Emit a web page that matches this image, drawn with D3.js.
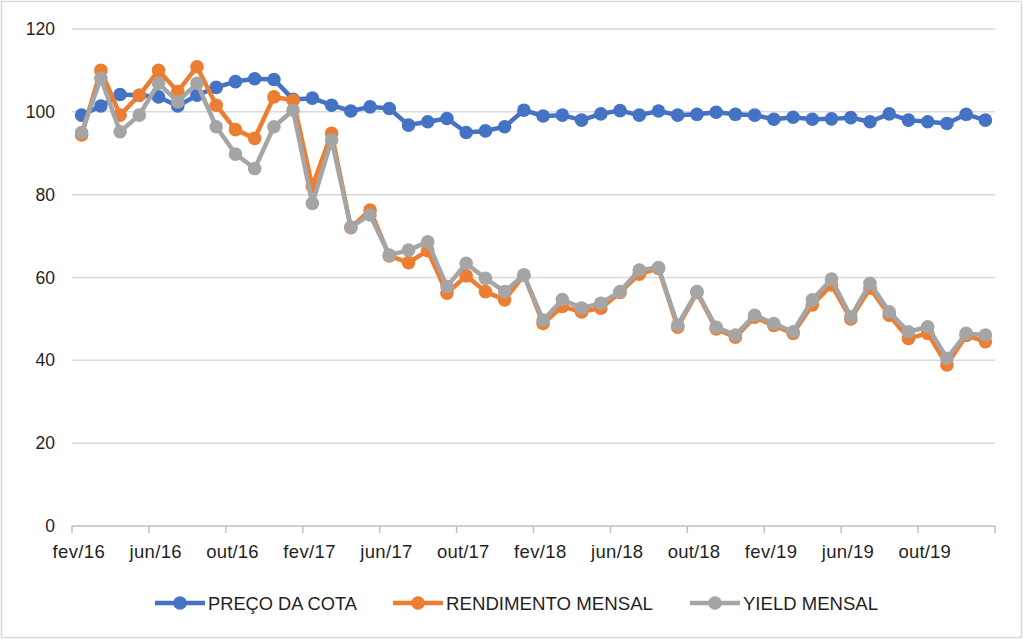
<!DOCTYPE html>
<html>
<head>
<meta charset="utf-8">
<script src="https://cdn.jsdelivr.net/npm/d3@7"></script>
<style>
  body { margin: 0; background: #fff; }
  svg text { font-family: "Liberation Sans", Arial, sans-serif; fill: #1f1f1f; }
</style>
</head>
<body>
<svg id="chart" width="1024" height="641"></svg>
<script>
// months fev/16 .. jan/20
const monthNames = ["jan", "fev", "mar", "abr", "mai", "jun", "jul", "ago", "set", "out", "nov", "dez"];
const months = d3.range(48).map(i => {
    const m = (1 + i) % 12;
    const yr = 16 + Math.floor((1 + i) / 12);
    return monthNames[m] + "/" + yr;
});

const precoCota = [99.2, 101.4, 104.2, 104, 103.6, 101.4, 104, 105.9, 107.3, 108,
    107.8, 103, 103.3, 101.6, 100.2, 101.2, 100.8, 96.8, 97.6, 98.4,
    95, 95.4, 96.4, 100.4, 99, 99.2, 98, 99.5, 100.3, 99.2,
    100.2, 99.2, 99.4, 99.9, 99.4, 99.2, 98.2, 98.7, 98.2, 98.3,
    98.6, 97.6, 99.5, 98, 97.6, 97.2, 99.4, 98];

const rendimentoMensal = [94.4, 110, 99.2, 104, 110, 104.9, 110.9, 101.6, 95.7, 93.6,
    103.6, 102.8, 82, 94.8, 72, 76.3, 65.2, 63.6, 66.5, 56.2,
    60.4, 56.6, 54.6, 60.6, 48.9, 53, 51.7, 52.6, 56.4, 60.8,
    62.2, 48, 56.4, 47.6, 45.6, 50.4, 48.4, 46.5, 53.4, 58.2,
    50, 57.4, 50.9, 45.3, 46.5, 38.9, 46, 44.5];

const yieldMensal = [95, 108.1, 95.2, 99.2, 106.9, 102.4, 106.9, 96.4, 89.8, 86.3,
    96.4, 100.4, 77.9, 93.2, 72.2, 75.1, 65.4, 66.6, 68.6, 57.8,
    63.4, 59.8, 56.6, 60.6, 49.7, 54.7, 52.6, 53.8, 56.6, 61.8,
    62.4, 48.5, 56.6, 48, 46.1, 50.9, 48.9, 46.9, 54.6, 59.6,
    50.5, 58.6, 51.7, 46.9, 48.1, 40.5, 46.5, 46.1];

const yTicks = [0, 20, 40, 60, 80, 100, 120];
const seriesNames = ["PREÇO DA COTA", "RENDIMENTO MENSAL", "YIELD MENSAL"];
const colors = ["#4472C4", "#ED7D31", "#A5A5A5"];

const svg = d3.select("#chart");
const plotLeft = 72, plotRight = 995, plotTop = 29, plotBottom = 526;

// outer frame
svg.append("rect")
    .attr("x", 1.5).attr("y", 1.5)
    .attr("width", 1020).attr("height", 636)
    .attr("fill", "none")
    .attr("stroke", "#d9d9d9")
    .attr("stroke-width", 1.5);

const x = d3.scaleBand().domain(months).range([plotLeft, plotRight]);
const y = d3.scaleLinear().domain([0, 120]).range([plotBottom, plotTop]);

// gridlines
svg.append("g")
    .selectAll("line")
    .data(yTicks.filter(t => t > 0))
    .join("line")
    .attr("x1", plotLeft).attr("x2", plotRight)
    .attr("y1", d => y(d)).attr("y2", d => y(d))
    .attr("stroke", "#d9d9d9")
    .attr("stroke-width", 1.5);

// y labels
svg.append("g")
    .selectAll("text")
    .data(yTicks)
    .join("text")
    .attr("x", 55)
    .attr("y", d => y(d) + 6)
    .attr("text-anchor", "end")
    .attr("font-size", "17.5px")
    .text(d => d);

// x axis line + ticks every 4 categories
svg.append("line")
    .attr("x1", plotLeft).attr("x2", plotRight)
    .attr("y1", plotBottom).attr("y2", plotBottom)
    .attr("stroke", "#bfbfbf").attr("stroke-width", 1.5);

const tickIdx = d3.range(0, 49, 4);
svg.append("g")
    .selectAll("line")
    .data(tickIdx)
    .join("line")
    .attr("x1", d => plotLeft + d * x.step()).attr("x2", d => plotLeft + d * x.step())
    .attr("y1", plotBottom).attr("y2", plotBottom + 7)
    .attr("stroke", "#bfbfbf").attr("stroke-width", 1.5);

svg.append("g")
    .selectAll("text")
    .data(months.filter((m, i) => i % 4 === 0))
    .join("text")
    .attr("x", d => x(d) + x.bandwidth() / 2 - 3)
    .attr("y", 558)
    .attr("text-anchor", "middle")
    .attr("font-size", "18.5px")
    .attr("textLength", d => d.length * 8.7)
    .text(d => d);

// series
const allSeries = [precoCota, rendimentoMensal, yieldMensal];
const line = d3.line()
    .x((d, i) => x(months[i]) + x.bandwidth() / 2)
    .y(d => y(d));

allSeries.forEach((vals, k) => {
    const g = svg.append("g");
    g.append("path")
        .datum(vals)
        .attr("fill", "none")
        .attr("stroke", colors[k])
        .attr("stroke-width", 4.5)
        .attr("stroke-linejoin", "round")
        .attr("d", line);
    g.selectAll("circle")
        .data(vals)
        .join("circle")
        .attr("cx", (d, i) => x(months[i]) + x.bandwidth() / 2)
        .attr("cy", d => y(d))
        .attr("r", 6.8)
        .attr("fill", colors[k]);
});

// legend
const legendX = [155, 393, 690];
const legendW = [149, 207, 135];
const legend = svg.append("g");
seriesNames.forEach((name, k) => {
    const lx = legendX[k];
    legend.append("line")
        .attr("x1", lx).attr("x2", lx + 50)
        .attr("y1", 603).attr("y2", 603)
        .attr("stroke", colors[k]).attr("stroke-width", 4.5);
    legend.append("circle")
        .attr("cx", lx + 25).attr("cy", 603).attr("r", 6.8)
        .attr("fill", colors[k]);
    legend.append("text")
        .attr("x", lx + 53).attr("y", 610)
        .attr("font-size", "18.5px")
        .attr("textLength", legendW[k])
        .attr("lengthAdjust", "spacingAndGlyphs")
        .text(name);
});
</script>
</body>
</html>
